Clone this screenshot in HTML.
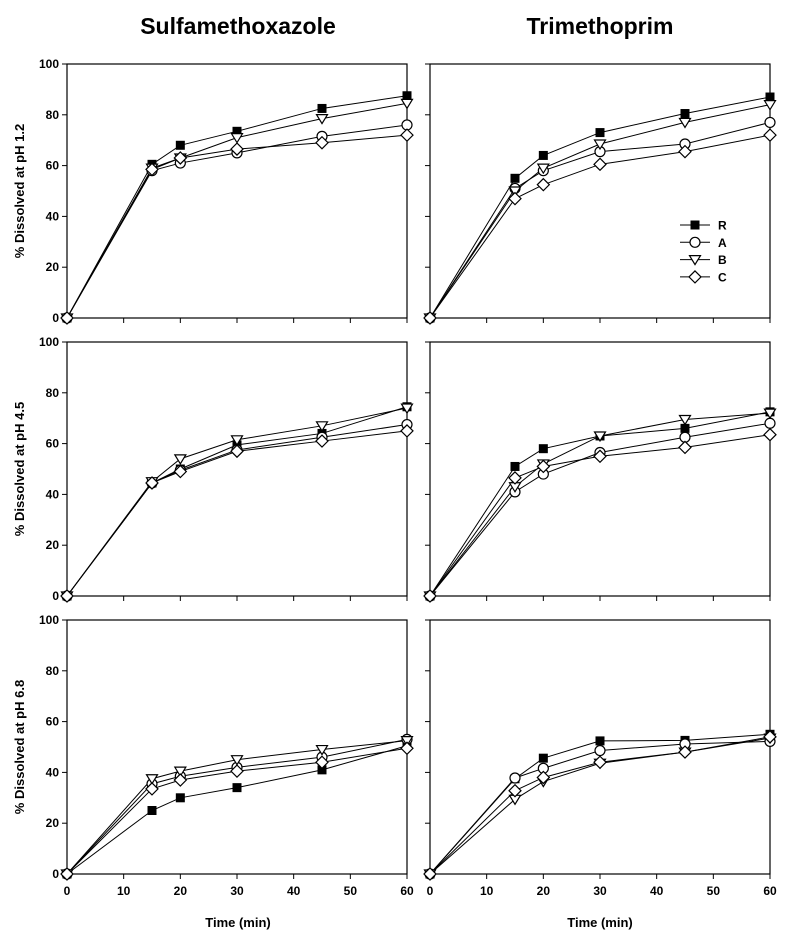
<!DOCTYPE html>
<html><head><meta charset="utf-8"><style>
body{margin:0;background:#fff}
svg{display:block;font-family:"Liberation Sans",Arial,sans-serif}
</style></head><body>
<svg id="chart" width="804" height="935" viewBox="0 0 804 935" xmlns="http://www.w3.org/2000/svg">
<text x="238" y="34" text-anchor="middle" font-size="23" font-weight="bold">Sulfamethoxazole</text>
<text x="600" y="34" text-anchor="middle" font-size="23" font-weight="bold">Trimethoprim</text>
<text x="238" y="927" text-anchor="middle" font-size="13" font-weight="bold">Time (min)</text>
<text x="600" y="927" text-anchor="middle" font-size="13" font-weight="bold">Time (min)</text>
</svg>
<script>
const times = [0, 15, 20, 30, 45, 60];
const seriesNames = ['R', 'A', 'B', 'C'];
const xTicks = [0, 10, 20, 30, 40, 50, 60];
const yTicks = [0, 20, 40, 60, 80, 100];
const phLabels = ['1.2', '4.5', '6.8'];
const smx12 = [[0,60.5,68,73.5,82.5,87.5],[0,58,61,65,71.5,76],[0,59,63,71,78.5,84.5],[0,58.5,63,66.5,69,72]];
const tmp12 = [[0,55,64,73,80.5,87],[0,51,58,65.5,68.5,77],[0,50,59,68.5,77,84],[0,47,52.5,60.5,65.5,72]];
const smx45 = [[0,44.5,50,59.5,64,74.5],[0,44.5,49.5,57.5,62.5,67.5],[0,45,54,61.5,67,74],[0,44.5,49,57,61,65]];
const tmp45 = [[0,51,58,63,66,72.5],[0,41,48,56.5,62.5,68],[0,43,52,63,69.5,72],[0,46.5,51,55,58.5,63.5]];
const smx68 = [[0,25,30,34,41,50.5],[0,35.5,38.5,42,46,53],[0,37.5,40.5,45,49,52.5],[0,33.5,37,40.5,44,49.5]];
const tmp68 = [[0,37.5,45.6,52.4,52.6,55],[0,37.8,41.6,48.6,51.2,52.2],[0,29.4,36.4,43.6,48,53.5],[0,32.8,38,44,48,54]];

const NS = 'http://www.w3.org/2000/svg';
const svg = document.getElementById('chart');
function mk(tag, attrs, parent){const e=document.createElementNS(NS,tag);for(const k in attrs)e.setAttribute(k,attrs[k]);(parent||svg).appendChild(e);return e;}

function marker(g, type, cx, cy){
  let e;
  if(type==='R'){e=mk('rect',{x:cx-4.5,y:cy-4.5,width:9,height:9,fill:'#000'},g);}
  else if(type==='A'){e=mk('circle',{cx:cx,cy:cy,r:5,fill:'#fff',stroke:'#000','stroke-width':1.2},g);}
  else if(type==='B'){e=mk('polygon',{points:`${cx-5.5},${cy-4} ${cx+5.5},${cy-4} ${cx},${cy+5}`,fill:'#fff',stroke:'#000','stroke-width':1.2},g);}
  else {e=mk('polygon',{points:`${cx},${cy-6} ${cx+6},${cy} ${cx},${cy+6} ${cx-6},${cy}`,fill:'#fff',stroke:'#000','stroke-width':1.2},g);}
  return e;
}

const panels = [
  {data:smx12,col:0,row:0,name:'smx-ph12'},{data:tmp12,col:1,row:0,name:'tmp-ph12'},
  {data:smx45,col:0,row:1,name:'smx-ph45'},{data:tmp45,col:1,row:1,name:'tmp-ph45'},
  {data:smx68,col:0,row:2,name:'smx-ph68'},{data:tmp68,col:1,row:2,name:'tmp-ph68'}
];
const colX = [67, 430], W = 340, H = 254, rowY = [64, 342, 620];

panels.forEach(p=>{
  const x0 = colX[p.col], top = rowY[p.row], bot = top + H;
  const xs = t => x0 + t/60*W;
  const ys = v => bot - v/100*H;
  const g = mk('g',{});
  
  
  const frame = mk('rect',{x:x0,y:top,width:W,height:H,fill:'none',stroke:'#000','stroke-width':1.2},g);
  
  
  xTicks.forEach(t=>{
    mk('line',{x1:xs(t),x2:xs(t),y1:bot,y2:bot+5,stroke:'#000','stroke-width':1},g);
    if(p.row===2){
      const tl = mk('text',{x:xs(t),y:bot+21,'text-anchor':'middle','font-size':12,'font-weight':'bold'},g);
      tl.textContent = t;
      
      
    }
  });
  yTicks.forEach(v=>{
    mk('line',{x1:x0-5,x2:x0,y1:ys(v),y2:ys(v),stroke:'#000','stroke-width':1},g);
    if(p.col===0){
      const tl = mk('text',{x:x0-8,y:ys(v)+4,'text-anchor':'end','font-size':12,'font-weight':'bold'},g);
      tl.textContent = v;
      
      
    }
  });
  if(p.col===0){
    const cy = (top+bot)/2;
    const yl = mk('text',{x:0,y:0,transform:`translate(24,${cy}) rotate(-90)`,'text-anchor':'middle','font-size':13,'font-weight':'bold'},g);
    yl.textContent = '% Dissolved at pH ' + phLabels[p.row];
    
    
  }
  p.data.forEach((vals,si)=>{
    const pts = vals.map((v,i)=>xs(times[i])+','+ys(v)).join(' ');
    const line = mk('polyline',{points:pts,fill:'none',stroke:'#000','stroke-width':1},g);
    
    
  });
  p.data.forEach((vals,si)=>{
    vals.forEach((v,i)=>{
      const m = marker(g, seriesNames[si], xs(times[i]), ys(v));
      
      
    });
  });
});

// legend
const lg = mk('g',{});


seriesNames.forEach((s,i)=>{
  const y = 225 + i*17.3;
  const e = mk('g',{},lg);
  
  
  mk('line',{x1:680,x2:710,y1:y,y2:y,stroke:'#000','stroke-width':1},e);
  marker(e, s, 695, y);
  const t = mk('text',{x:718,y:y+4.5,'font-size':12,'font-weight':'bold'},e);
  t.textContent = s;
});
</script>
</body></html>
